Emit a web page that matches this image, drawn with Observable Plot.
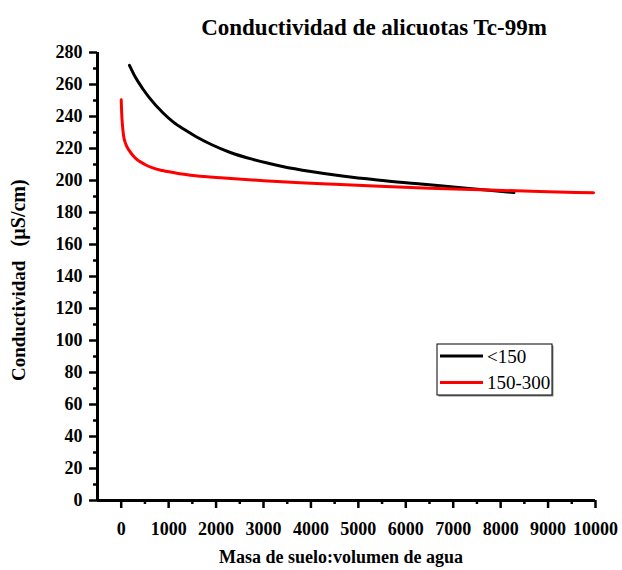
<!DOCTYPE html>
<html>
<head>
<meta charset="utf-8">
<script src="https://cdn.jsdelivr.net/npm/d3@7"></script>
<script src="https://cdn.jsdelivr.net/npm/@observablehq/plot@0.6"></script>
<style>
  html, body { margin: 0; padding: 0; background: white; }
  #chart svg text { font-family: "Liberation Serif", "Times New Roman", serif !important; }
</style>
</head>
<body>
<div id="chart"></div>
<script>
// ---- data ----
const seriesNames = ["<150", "150-300"];
const seriesColors = ["#000000", "#ff0000"];

const blackX = [174, 300, 450, 600, 873, 1100, 1350, 1572, 1900, 2300, 2800, 3400, 4000, 4700, 5400, 6200, 7000, 7757, 8281];
const blackY = [272, 264.5, 257.5, 251.5, 242.5, 236.5, 231.5, 227.5, 222.5, 217.5, 213, 208.8, 205.6, 202.6, 200.3, 198.1, 196, 193.9, 192.5];

const redX = [0, 10, 25, 50, 100, 174, 280, 384, 500, 650, 873, 1200, 1572, 2166, 3000, 3774, 4500, 5451, 6500, 7757, 9000, 9958];
const redY = [250.5, 242, 235, 228, 222.5, 218.5, 214.5, 212, 210, 208, 206.2, 204.4, 203, 201.6, 199.9, 198.6, 197.6, 196.4, 195.2, 194, 193, 192.3];

const yMajor = [0, 20, 40, 60, 80, 100, 120, 140, 160, 180, 200, 220, 240, 260, 280];
const yMinor = [10, 30, 50, 70, 90, 110, 130, 150, 170, 190, 210, 230, 250, 270];
const xMajor = [0, 1000, 2000, 3000, 4000, 5000, 6000, 7000, 8000, 9000, 10000];
const xMinor = [500, 1500, 2500, 3500, 4500, 5500, 6500, 7500, 8500, 9500];

const titleText = "Conductividad de alicuotas Tc-99m";
const xLabel = "Masa de suelo:volumen de agua";
const yLabelMain = "Conductividad\u00A0\u00A0\u00A0";
const yLabelUnit = "(µS/cm)";

// ---- build tables ----
const blackData = blackX.map((x, i) => ({x, y: blackY[i]}));
const redData = redX.map((x, i) => ({x, y: redY[i]}));

const W = 622, H = 570;
const ml = 97, mr = 27, mt = 52, mb = 70;
const font = "Liberation Serif, Times New Roman, serif";

const chart = Plot.plot({
  width: W,
  height: H,
  marginLeft: ml,
  marginRight: mr,
  marginTop: mt,
  marginBottom: mb,
  style: {fontFamily: font, fontSize: "18px", fontWeight: "bold", color: "black", background: "white", overflow: "visible"},
  x: {domain: [-500, 10000]},
  y: {domain: [0, 280]},
  marks: [
    Plot.axisY({ticks: yMajor, tickSize: 8, tickPadding: 7, strokeWidth: 2.5, label: null, tickFormat: d => String(d), fontSize: 18, fontFamily: font, fontWeight: "bold", fontVariant: "normal"}),
    Plot.axisY({ticks: yMinor, tickSize: 4, strokeWidth: 2.5, label: null, tickFormat: () => ""}),
    Plot.axisX({ticks: xMajor, tickSize: 8, tickPadding: 14, strokeWidth: 2.5, label: null, tickFormat: d => String(d), fontSize: 18, fontFamily: font, fontWeight: "bold", fontVariant: "normal"}),
    Plot.axisX({ticks: xMinor, tickSize: 4, strokeWidth: 2.5, label: null, tickFormat: () => ""}),
    Plot.ruleX([-500], {stroke: "black", strokeWidth: 3}),
    Plot.ruleY([0], {stroke: "black", strokeWidth: 3}),
    Plot.line(blackData, {x: "x", y: "y", stroke: seriesColors[0], strokeWidth: 3, curve: "monotone-x"}),
    Plot.line(redData, {x: "x", y: "y", stroke: seriesColors[1], strokeWidth: 3, curve: "monotone-x"})
  ]
});

document.getElementById("chart").appendChild(chart);

// ---- titles and legend (layout only) ----
const svg = d3.select(chart);

svg.append("text")
  .attr("x", 374).attr("y", 35)
  .attr("text-anchor", "middle")
  .attr("font-family", font).attr("font-weight", "bold").attr("font-size", 23)
  .attr("fill", "black")
  .text(titleText);

svg.append("text")
  .attr("x", 341).attr("y", 563)
  .attr("text-anchor", "middle")
  .attr("font-family", font).attr("font-weight", "bold").attr("font-size", 18)
  .attr("fill", "black")
  .text(xLabel);

const yl = svg.append("text")
  .attr("transform", "translate(25,381) rotate(-90)")
  .attr("text-anchor", "start")
  .attr("font-family", font).attr("font-weight", "bold").attr("font-size", 19)
  .attr("fill", "black");
yl.append("tspan").text(yLabelMain);
yl.append("tspan").attr("font-size", 20).text(yLabelUnit);

// legend
const lg = svg.append("g");
const lx = 437, ly = 344, lw = 115, lh = 51;
lg.append("rect").attr("x", lx + 1.5).attr("y", ly + 1.5).attr("width", lw).attr("height", lh).attr("fill", "#888");
lg.append("rect").attr("x", lx).attr("y", ly).attr("width", lw).attr("height", lh)
  .attr("fill", "white").attr("stroke", "black").attr("stroke-width", 1);
seriesNames.forEach((name, i) => {
  const yy = 356 + i * 26.5;
  lg.append("line").attr("x1", 440).attr("x2", 483).attr("y1", yy).attr("y2", yy)
    .attr("stroke", seriesColors[i]).attr("stroke-width", 3);
  lg.append("text").attr("x", 487).attr("y", yy + 6.5)
    .attr("text-anchor", "start")
    .attr("font-family", font).attr("font-size", 19).attr("font-weight", "normal")
    .attr("fill", "black")
    .text(name);
});
</script>
</body>
</html>
